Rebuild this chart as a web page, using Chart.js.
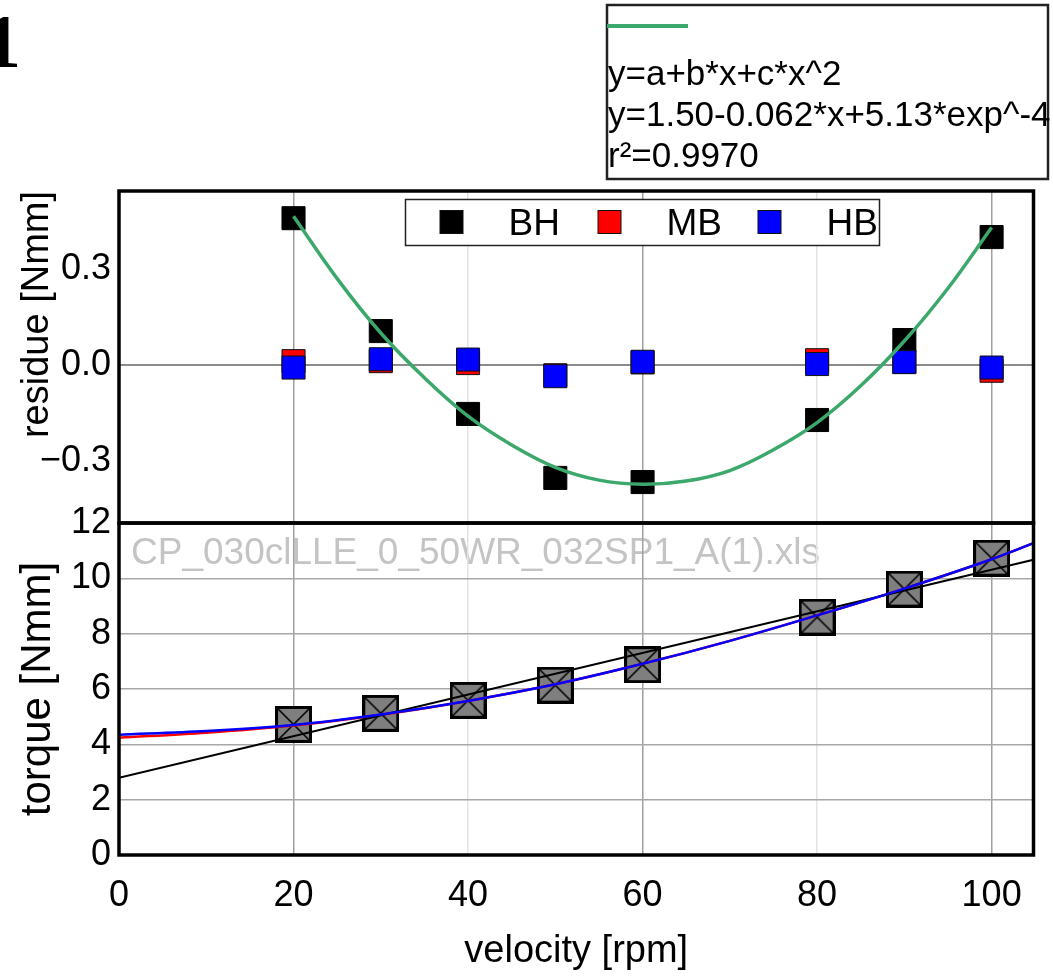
<!DOCTYPE html>
<html>
<head>
<meta charset="utf-8">
<script src="https://cdn.jsdelivr.net/npm/chart.js@4.4.1/dist/chart.umd.min.js"></script>
<style>
  html, body { margin: 0; padding: 0; background: #fff; }
  #c { display: block; }
</style>
</head>
<body>
<canvas id="c" width="1053" height="976"></canvas>
<script>
// measured speeds and the residues of the three fits at each speed
const velocity   = [20, 30, 40, 50, 60, 80, 90, 100];
const residueBH  = [0.459, 0.106, -0.153, -0.353, -0.366, -0.172, 0.078, 0.400];
const residueMB  = [0.012, 0.012, 0.006, -0.032, 0.008, 0.015, 0.010, -0.018];
const residueHB  = [-0.008, 0.018, 0.017, -0.035, 0.010, 0.003, 0.009, -0.008];
// measured torque
const torque     = [4.72, 5.12, 5.59, 6.14, 6.88, 8.60, 9.61, 10.73];

// quadratic fit through the BH residues
const fitX       = [20, 25, 30, 35, 40, 45, 50, 55, 60, 65, 70, 75, 80, 85, 90, 95, 100];
const fitResidue = [0.465, 0.27, 0.10, -0.04, -0.16, -0.25, -0.32, -0.36, -0.373,
                    -0.363, -0.33, -0.265, -0.18, -0.065, 0.075, 0.24, 0.43];

// model curves over torque
const curveX     = [0, 10, 20, 30, 40, 50, 60, 70, 80, 90, 100, 104.8];
const curveHB    = [4.35, 4.48, 4.70, 5.08, 5.57, 6.17, 6.91, 7.74, 8.66, 9.63, 10.69, 11.27];
const curveMB    = [4.24, 4.42, 4.68, 5.07, 5.57, 6.17, 6.91, 7.74, 8.66, 9.63, 10.69, 11.27];
const lineX      = [0, 104.8];
const lineBH     = [2.79, 10.67];

const seriesNames = ['BH', 'MB', 'HB'];
const fitText     = ['y=a+b*x+c*x^2', 'y=1.50-0.062*x+5.13*exp^-4', 'r\u00b2=0.9970'];
const fileName    = 'CP_030clLLE_0_50WR_032SP1_A(1).xls';
const panelTag    = '1';

const xTicks       = [0, 20, 40, 60, 80, 100];
const residueTicks = [-0.3, 0, 0.3];
const torqueTicks  = [0, 2, 4, 6, 8, 10, 12];

const FONT = '"Liberation Sans", Arial, sans-serif';
Chart.defaults.font.family = FONT;
Chart.defaults.color = '#000';

const pts = (xs, ys) => xs.map((x, i) => ({ x: x, y: ys[i] }));

// grey box with a diagonal cross, used as torque marker
function crossBox(size) {
  const c = document.createElement('canvas');
  c.width = size; c.height = size;
  const g = c.getContext('2d');
  g.fillStyle = '#7f7f7f';
  g.fillRect(0, 0, size, size);
  g.strokeStyle = '#000';
  g.lineWidth = 1.6;
  g.beginPath();
  g.moveTo(2, 2); g.lineTo(size - 2, size - 2);
  g.moveTo(size - 2, 2); g.lineTo(2, size - 2);
  g.stroke();
  g.lineWidth = 3;
  g.strokeRect(1.5, 1.5, size - 3, size - 3);
  return c;
}

const decor = {
  id: 'decor',
  beforeDraw(chart) {
    const ctx = chart.ctx;
    ctx.save();
    ctx.fillStyle = '#fff';
    ctx.fillRect(0, 0, chart.width, chart.height);
    const ca = chart.chartArea;
    const yT = chart.scales.yTor;
    ctx.font = '37px ' + FONT;
    ctx.fillStyle = '#c4c4c4';
    ctx.textBaseline = 'alphabetic';
    ctx.fillText(fileName, ca.left + 12, yT.top + 41);
    ctx.restore();
  },
  afterDraw(chart) {
    const ctx = chart.ctx;
    const ca = chart.chartArea;
    const yR = chart.scales.yRes, yT = chart.scales.yTor;
    ctx.save();

    // residue legend inside the upper panel
    const lx = 405, ly = 199, lw = 474, lh = 46;
    ctx.fillStyle = '#fff';
    ctx.fillRect(lx, ly, lw, lh);
    ctx.strokeStyle = '#222';
    ctx.lineWidth = 1.5;
    ctx.strokeRect(lx + 0.5, ly + 0.5, lw, lh);
    ctx.font = '37px ' + FONT;
    ctx.textBaseline = 'alphabetic';
    const step = 158;
    seriesNames.forEach((name, i) => {
      const ds = chart.data.datasets.find(d => d.label === name);
      const cx = 451.5 + i * step + (i === 2 ? 2 : 0), cy = 222;
      ctx.fillStyle = ds.backgroundColor;
      ctx.fillRect(cx - 11.5, cy - 11.5, 23, 23);
      ctx.strokeStyle = '#111';
      ctx.lineWidth = 1;
      ctx.strokeRect(cx - 11.5, cy - 11.5, 23, 23);
      ctx.fillStyle = '#000';
      ctx.fillText(name, cx + 57, 235);
    });

    // fit description box above the plot
    const bx = 607, by = 5, bw = 441, bh = 174;
    ctx.strokeStyle = '#222';
    ctx.lineWidth = 2.5;
    ctx.strokeRect(bx, by, bw, bh);
    ctx.strokeStyle = '#3ca86c';
    ctx.lineWidth = 4;
    ctx.beginPath();
    ctx.moveTo(bx, 26); ctx.lineTo(bx + 81, 26);
    ctx.stroke();
    ctx.fillStyle = '#000';
    ctx.font = '35px ' + FONT;
    fitText.forEach((t, i) => ctx.fillText(t, bx + 1, 85 + i * 41));

    // panel frames
    ctx.strokeStyle = '#000';
    ctx.lineWidth = 3.5;
    ctx.strokeRect(ca.left, yR.top, ca.right - ca.left, yR.bottom - yR.top);
    ctx.strokeRect(ca.left, yT.top, ca.right - ca.left, yT.bottom - yT.top);

    // panel tag
    ctx.font = 'bold 76px "Liberation Serif", serif';
    const m = ctx.measureText(panelTag);
    ctx.fillStyle = '#000';
    ctx.fillText(panelTag, 18 - m.actualBoundingBoxRight, 67);
    ctx.restore();
  }
};

const fixedTicks = arr => scale => { scale.ticks = arr.map(v => ({ value: v })); };

new Chart(document.getElementById('c'), {
  type: 'scatter',
  data: {
    datasets: [
      { label: 'fit', yAxisID: 'yRes', data: pts(fitX, fitResidue), showLine: true,
        borderColor: '#3ca86c', borderWidth: 3.5, pointRadius: 0, tension: 0.4, order: 0 },
      { label: 'HB', yAxisID: 'yRes', data: pts(velocity, residueHB), pointStyle: 'rect',
        pointRadius: 16.3, backgroundColor: '#0000ff', borderColor: '#111', borderWidth: 1, order: 1 },
      { label: 'MB', yAxisID: 'yRes', data: pts(velocity, residueMB), pointStyle: 'rect',
        pointRadius: 16.3, backgroundColor: '#ff0000', borderColor: '#111', borderWidth: 1, order: 2 },
      { label: 'BH', yAxisID: 'yRes', data: pts(velocity, residueBH), pointStyle: 'rect',
        pointRadius: 16.3, backgroundColor: '#000000', borderColor: '#000', borderWidth: 1, order: 3 },

      { label: 'HB curve', yAxisID: 'yTor', data: pts(curveX, curveHB), showLine: true,
        borderColor: '#0000ff', borderWidth: 2.5, pointRadius: 0, cubicInterpolationMode: 'monotone', order: 4 },
      { label: 'BH line', yAxisID: 'yTor', data: pts(lineX, lineBH), showLine: true,
        borderColor: '#000', borderWidth: 2, pointRadius: 0, order: 5 },
      { label: 'MB curve', yAxisID: 'yTor', data: pts(curveX, curveMB), showLine: true,
        borderColor: '#ff0000', borderWidth: 2.5, pointRadius: 0, cubicInterpolationMode: 'monotone', order: 6 },
      { label: 'torque', yAxisID: 'yTor', data: pts(velocity, torque),
        pointStyle: crossBox(37), pointRadius: 18.5, order: 7 }
    ]
  },
  options: {
    responsive: false,
    animation: false,
    devicePixelRatio: 1,
    events: [],
    layout: { padding: { left: 0, right: 5.5, top: 191, bottom: 0 } },
    plugins: { legend: { display: false }, tooltip: { enabled: false } },
    scales: {
      x: {
        type: 'linear', min: 0, max: 104.8,
        afterBuildTicks: fixedTicks(xTicks),
        afterFit: s => { s.height = 121; },
        border: { display: false },
        grid: {
          drawTicks: false, lineWidth: 1.5,
          color: c => (c.tick && (c.tick.value === 40 || c.tick.value === 80)) ? '#e3e3e3' : '#a0a0a0'
        },
        ticks: { font: { size: 36 }, padding: 19, maxRotation: 0, autoSkip: false, color: '#000' },
        title: { display: true, text: 'velocity [rpm]', font: { size: 38 }, color: '#000',
                 padding: { top: 0, bottom: 1.5 } }
      },
      yTor: {
        type: 'linear', position: 'left', stack: 'panels', stackWeight: 1,
        min: 0, max: 12,
        afterBuildTicks: fixedTicks(torqueTicks),
        afterFit: s => { s.width = 119; },
        border: { display: false },
        grid: {
          drawTicks: false, lineWidth: 1.5,
          color: c => (c.tick && c.tick.value > 0 && c.tick.value < 12) ? '#a8a8a8' : 'rgba(0,0,0,0)'
        },
        ticks: { font: { size: 36 }, padding: 8, autoSkip: false, color: '#000' },
        title: { display: true, text: 'torque [Nmm]', font: { size: 42 }, color: '#000',
                 padding: { top: 13, bottom: 0 } }
      },
      yRes: {
        type: 'linear', position: 'left', stack: 'panels', stackWeight: 1,
        min: -0.494, max: 0.544,
        afterBuildTicks: fixedTicks(residueTicks),
        afterFit: s => { s.width = 119; },
        border: { display: false },
        grid: {
          drawTicks: false, lineWidth: 2,
          color: c => (c.tick && c.tick.value === 0) ? '#8c8c8c' : 'rgba(0,0,0,0)'
        },
        ticks: {
          font: { size: 36 }, padding: 8, autoSkip: false, color: '#000',
          callback: v => (v < 0 ? '\u2212' : '') + Math.abs(v).toFixed(1)
        },
        title: { display: true, text: 'residue [Nmm]', align: 'end', font: { size: 38 }, color: '#000',
                 padding: { top: 15, bottom: 0 } }
      }
    }
  },
  plugins: [decor]
});
</script>
</body>
</html>
